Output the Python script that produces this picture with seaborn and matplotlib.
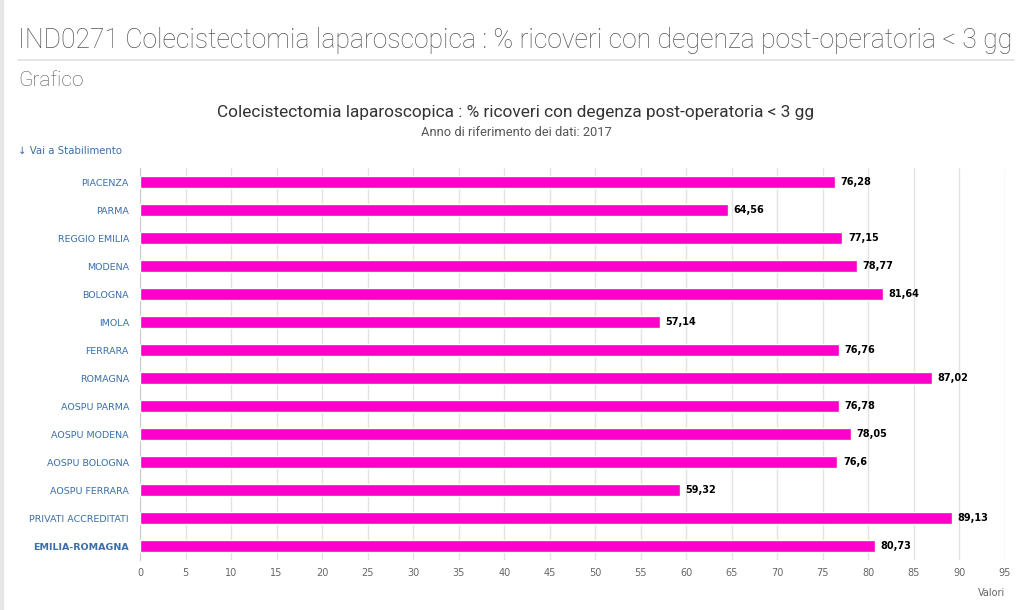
import matplotlib
matplotlib.use("Agg")
import matplotlib.pyplot as plt
import seaborn as sns
import pandas as pd

# data
categories = ["PIACENZA", "PARMA", "REGGIO EMILIA", "MODENA", "BOLOGNA", "IMOLA",
              "FERRARA", "ROMAGNA", "AOSPU PARMA", "AOSPU MODENA", "AOSPU BOLOGNA",
              "AOSPU FERRARA", "PRIVATI ACCREDITATI", "EMILIA-ROMAGNA"]
values = [76.28, 64.56, 77.15, 78.77, 81.64, 57.14, 76.76, 87.02, 76.78, 78.05,
          76.6, 59.32, 89.13, 80.73]
value_labels = ["76,28", "64,56", "77,15", "78,77", "81,64", "57,14", "76,76", "87,02",
                "76,78", "78,05", "76,6", "59,32", "89,13", "80,73"]
xticks = list(range(0, 100, 5))

df = pd.DataFrame({"area": categories, "valore": values})

sns.set_style("white")
plt.rcParams["font.family"] = ["Roboto", "DejaVu Sans"]

fig = plt.figure(figsize=(10.24, 6.1), dpi=100)
ax = fig.add_axes([140 / 1024, 1 - 560 / 610, 865 / 1024, 392 / 610])

sns.barplot(data=df, x="valore", y="area", orient="h", color="#ff00cc",
            width=0.43, saturation=1, ax=ax, zorder=3)

ax.set_xlim(0, 95)
ax.set_ylim(len(categories) - 0.5, -0.5)
ax.set_xticks(xticks)
ax.set_xticklabels([str(t) for t in xticks], fontsize=7, color="#666666",
                   family=["DejaVu Sans"])
ax.grid(axis="x", color="#e3e3e3", linewidth=1, zorder=0)
ax.set_xlabel("")
ax.set_ylabel("")

# category ticks sit between bars
ax.set_yticks(range(len(categories)))
ax.set_yticklabels(categories, fontsize=6.8, color="#3b6ea8", family=["DejaVu Sans"])
ax.get_yticklabels()[-1].set_fontweight("bold")
ax.tick_params(axis="y", length=0, pad=8)
ax.tick_params(axis="x", length=0, pad=6)
ax.set_yticks([i - 0.5 for i in range(len(categories) + 1)], minor=True)
ax.tick_params(axis="y", which="minor", length=8, color="#cccccc", width=1)

for s in ["top", "right", "bottom"]:
    ax.spines[s].set_visible(False)
ax.spines["left"].set_color("#cccccc")

for i, (v, lab) in enumerate(zip(values, value_labels)):
    ax.text(v + 0.6, i, lab, va="center", ha="left", fontsize=7, fontweight="bold",
            color="black", family=["DejaVu Sans"], zorder=4)

# page headings
fig.text(18 / 1024, 1 - 41 / 610, "IND0271 Colecistectomia laparoscopica : % ricoveri con degenza post-operatoria < 3 gg",
         fontsize=19.1, color="#555555", fontweight="light", va="center", ha="left")
fig.add_artist(plt.Line2D([18 / 1024, 1014 / 1024], [1 - 60 / 610, 1 - 60 / 610],
                          color="#e0e0e0", linewidth=1.2))
fig.text(18 / 1024, 1 - 81 / 610, "Grafico", fontsize=15, color="#555555",
         fontweight="light", va="center", ha="left")
fig.text(516 / 1024, 1 - 113 / 610,
         "Colecistectomia laparoscopica : % ricoveri con degenza post-operatoria < 3 gg",
         fontsize=12.4, color="#333333", va="center", ha="center")
fig.text(516 / 1024, 1 - 133 / 610, "Anno di riferimento dei dati: 2017",
         fontsize=9.3, color="#555555", va="center", ha="center")
fig.text(18 / 1024, 1 - 151 / 610, "\u2193 Vai a Stabilimento", fontsize=7.3,
         color="#3b6ea8", va="center", ha="left", family=["DejaVu Sans"])
fig.text(1005 / 1024, 1 - 593 / 610, "Valori", fontsize=7, color="#666666",
         va="center", ha="right", family=["DejaVu Sans"])

# left page border
fig.add_artist(plt.Line2D([1.5 / 1024, 1.5 / 1024], [0, 1], color="#e6e6e6", linewidth=3))

fig.savefig("out.png", dpi=100)
